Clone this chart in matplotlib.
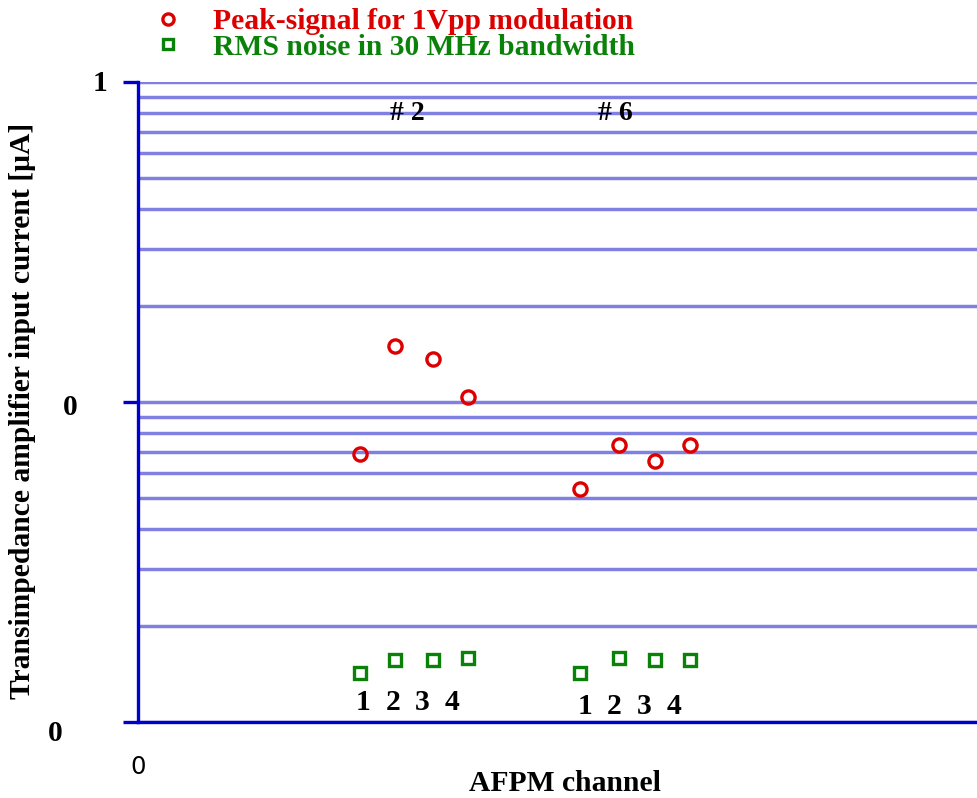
import matplotlib
matplotlib.use("Agg")
import matplotlib.pyplot as plt
from matplotlib.ticker import FixedLocator, NullFormatter, NullLocator

# AFPM channel positions (arbitrary x units) for detectors #2 and #6
chan_x = [6.25, 7.25, 8.3, 9.3, 12.45, 13.55, 14.55, 15.55]
chan_names = ['1', '2', '3', '4', '1', '2', '3', '4']
name_x = [6.34, 7.18, 8.0, 8.85, 12.59, 13.41, 14.25, 15.1]
name_y = [0.01148] * 4 + [0.01117] * 4
det_names = ['# 2', '# 6']
det_x = [7.6, 13.44]
det_y = 0.80

# currents in uA (log scale)
peak_signal = [0.0688, 0.150, 0.1365, 0.104, 0.0533, 0.0734, 0.0656, 0.0734]
rms_noise = [0.01426, 0.01563, 0.01563, 0.0159, 0.01426, 0.0159, 0.01563, 0.01563]

red = '#dd0000'
green = '#0a820a'
blue = '#0000cc'
grid_c = '#8080e2'
serif = 'Liberation Serif'
fs = 21.3

plt.rcParams['font.family'] = serif
plt.rcParams['font.weight'] = 'bold'

fig = plt.figure(figsize=(9.78, 7.98), dpi=100)
ax = fig.add_axes([138/978, 76/798, 852/978, 640/798])

ax.set_yscale('log')
ax.set_ylim(0.01, 1)
ax.set_xlim(0, 24)

# grid lines on every decade step
minor = [m * 10.0**e for e in (-2, -1) for m in range(2, 10)]
ax.yaxis.set_major_locator(FixedLocator([0.01, 0.1, 1]))
ax.yaxis.set_minor_locator(FixedLocator(minor))
ax.yaxis.set_major_formatter(NullFormatter())
ax.yaxis.set_minor_formatter(NullFormatter())
ax.grid(True, which='both', axis='y', color=grid_c, lw=2.5, zorder=0)
ax.set_axisbelow(True)

ax.tick_params(axis='y', which='major', length=11, width=2.4, color=blue,
               direction='out')
ax.tick_params(axis='y', which='minor', length=0)
ax.xaxis.set_major_locator(FixedLocator([0]))
ax.xaxis.set_minor_locator(NullLocator())
ax.tick_params(axis='x', length=0, pad=24)
ax.set_xticklabels(['0'], fontfamily='DejaVu Sans', fontweight='normal', fontsize=17.5)

for s in ['top', 'right']:
    ax.spines[s].set_visible(False)
for s in ['left', 'bottom']:
    ax.spines[s].set_color(blue)
    ax.spines[s].set_linewidth(2.4)

# y tick labels (exponents lost in original)
ytr = ax.get_yaxis_transform()
ax.annotate('1', xy=(-0.0446, 1), xycoords=ytr, xytext=(0, -1),
            textcoords='offset points', ha='center', va='center',
            fontsize=fs, fontweight='bold', annotation_clip=False)
ax.annotate('0', xy=(-0.0798, 0.1), xycoords=ytr, xytext=(0, -4),
            textcoords='offset points', ha='center', va='center',
            fontsize=fs, fontweight='bold', annotation_clip=False)
ax.annotate('0', xy=(-0.0974, 0.01), xycoords=ytr, xytext=(0, -8),
            textcoords='offset points', ha='center', va='center',
            fontsize=fs, fontweight='bold', annotation_clip=False)

h1, = ax.plot(chan_x, peak_signal, ls='none', marker='o', ms=9.5,
              mfc='none', mec=red, mew=2.4, label='Peak-signal for 1Vpp modulation',
              clip_on=False, zorder=3)
h2, = ax.plot(chan_x, rms_noise, ls='none', marker='s', ms=9.2,
              mfc='none', mec=green, mew=2.4, label='RMS noise in 30 MHz bandwidth',
              clip_on=False, zorder=3)

# channel numbers under the noise markers
for x, y, name in zip(name_x, name_y, chan_names):
    ax.text(x, y, name, ha='center', va='center', fontsize=fs, fontweight='bold')

for x, name in zip(det_x, det_names):
    ax.text(x, det_y, name, ha='center', va='center', fontsize=20, fontweight='bold')

ax.set_ylabel('Transimpedance amplifier input current [\u03bcA]',
              fontsize=fs, fontweight='bold')
ax.yaxis.set_label_coords(-0.12, 0.486)
ax.set_xlabel('AFPM channel', fontsize=fs, fontweight='bold')
ax.xaxis.set_label_coords(0.501, -0.075)

leg = ax.legend(handles=[h1, h2], loc='upper left',
                bbox_to_anchor=(138/978, 1 - 8/798), bbox_transform=fig.transFigure,
                frameon=False, numpoints=1, borderpad=0, markerscale=0.85,
                borderaxespad=0, handletextpad=0.52, labelspacing=-0.05,
                labelcolor='markeredgecolor',
                prop={'family': serif, 'weight': 'bold', 'size': fs})

fig.savefig('out.png', dpi=100)
